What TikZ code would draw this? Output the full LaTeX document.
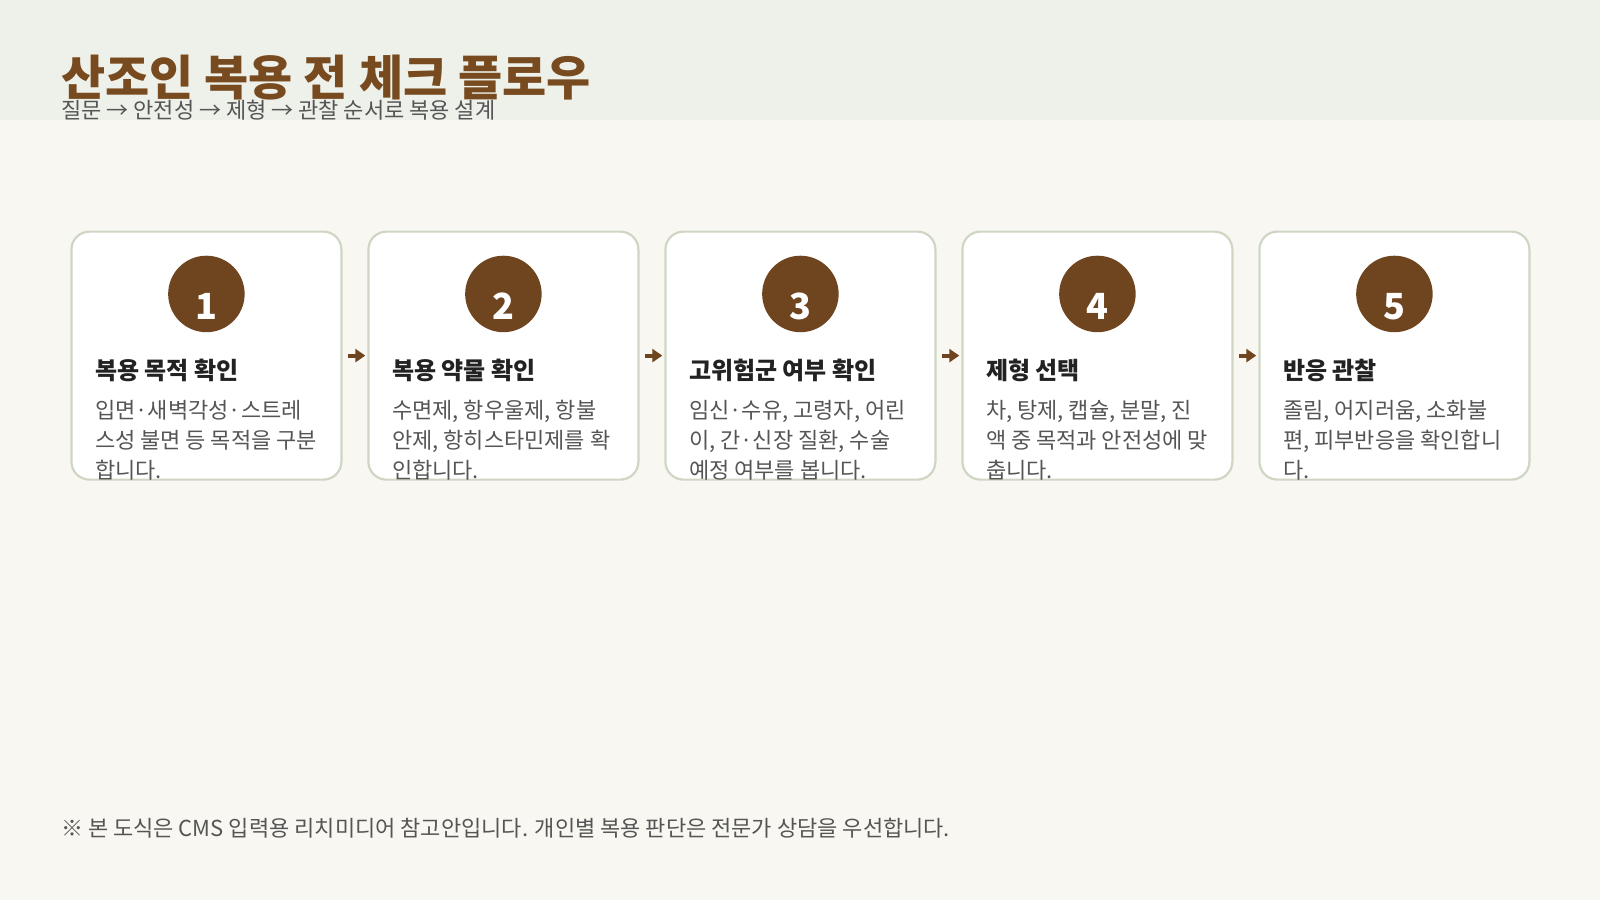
\documentclass[tikz,border=0pt]{standalone}
\usepackage{fontspec}
\setmainfont{Noto Sans CJK KR}
\usetikzlibrary{positioning,arrows.meta}
\definecolor{headbg}{HTML}{EEF1EA}
\definecolor{pagebg}{HTML}{F8F7F2}
\definecolor{brownmain}{HTML}{6F4520}
\definecolor{browntitle}{HTML}{784A1F}
\definecolor{cardline}{HTML}{D0D6C4}
\definecolor{textgray}{HTML}{555555}
\definecolor{textdark}{HTML}{222222}
\tikzset{%
	step card/.style={draw=cardline,line width=2.2pt,fill=white,rounded corners=18pt,
		minimum width=270pt,minimum height=248pt,inner sep=0pt},%
	num disc/.style={circle,fill=brownmain,minimum size=76.5pt,inner sep=0pt,
		text=white,font=\fontsize{36}{40}\selectfont\bfseries},%
	card title/.style={inner sep=0pt,text=textdark,font=\fontsize{24}{28}\selectfont\bfseries},%
	card body/.style={inner sep=0pt,text=textgray,align=left,font=\fontsize{22}{30}\selectfont},%
	flow arrow/.style={draw=brownmain,line width=4pt,shorten <=5pt,shorten >=2pt,
		-{Triangle[length=10pt,width=13pt]}}%
}
\begin{document}
\begin{tikzpicture}[x=1pt,y=-1pt]
	%% page and header band
	\useasboundingbox (0,0) rectangle (1600,900);
	\fill[pagebg] (0,0) rectangle (1600,900);
	\fill[headbg] (0,0) rectangle (1600,120);
	\node[anchor=base west,inner sep=0pt,text=browntitle,
		font=\fontsize{48}{56}\selectfont\bfseries] (head) at (61,95) {산조인 복용 전 체크 플로우};
	\node[anchor=base west,inner sep=0pt,text=textgray,
		font=\fontsize{22}{26}\selectfont] (sub) at (61,118) {질문 → 안전성 → 제형 → 관찰 순서로 복용 설계};
	
	%% the five steps
	\foreach \i/\ttl/\txt in {%
		1/{복용 목적 확인}/{입면·새벽각성·스트레\\스성 불면 등 목적을 구분\\합니다.},
		2/{복용 약물 확인}/{수면제, 항우울제, 항불\\안제, 항히스타민제를 확\\인합니다.},
		3/{고위험군 여부 확인}/{임신·수유, 고령자, 어린\\이, 간·신장 질환, 수술\\예정 여부를 봅니다.},
		4/{제형 선택}/{차, 탕제, 캡슐, 분말, 진\\액 중 목적과 안전성에 맞\\춥니다.},
		5/{반응 관찰}/{졸림, 어지러움, 소화불\\편, 피부반응을 확인합니\\다.}}{
		\node[step card] (c\i) at ({206.4+(\i-1)*297},355.6) {};
		\node[num disc,below=25pt of c\i.north] (n\i) {\raisebox{-26pt}[0pt][0pt]{\i}};
		\node[card title,anchor=west] (t\i) at ([xshift=24.5pt,yshift=-14.5pt]c\i.west) {\ttl};
		\node[card body,anchor=north west] (b\i) at ([xshift=24.5pt,yshift=-44pt]c\i.west) {\txt};
	}
	%connecting arrows
	\foreach \i [count=\j from 2] in {1,...,4} { \draw[flow arrow] (c\i.east) -- (c\j.west); }
	
	%% footnote
	\node[anchor=base west,inner sep=0pt,text=textgray,
		font=\fontsize{22}{26}\selectfont] (note) at (61,836) {※ 본 도식은 CMS 입력용 리치미디어 참고안입니다. 개인별 복용 판단은 전문가 상담을 우선합니다.};
\end{tikzpicture}
\end{document}
